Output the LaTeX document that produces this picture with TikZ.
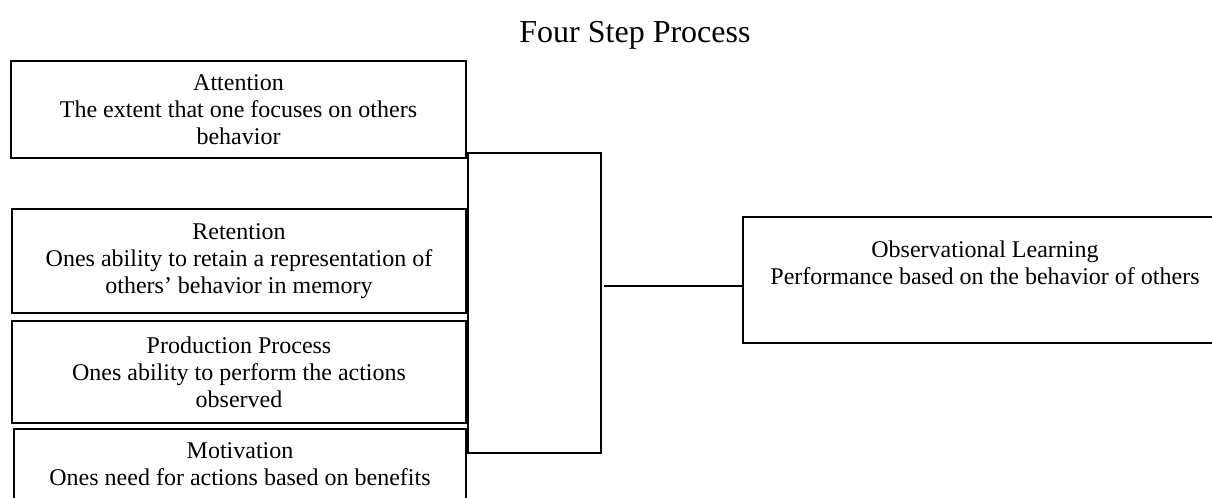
\documentclass[tikz,border=0pt]{standalone}
\usepackage{fontspec}
\setmainfont{Liberation Serif}
\begin{document}
\begin{tikzpicture}[x=0.5pt,y=-0.5pt,
  stepbox/.style={draw=black, line width=0.85pt, rectangle, inner sep=0pt, outer sep=0pt,
    align=center, font=\fontsize{12}{13.5}\selectfont},
  linkline/.style={draw=black, line width=0.85pt}]
\useasboundingbox (0,0) rectangle (1212,498);
\clip (0,0) rectangle (1212,498);
\node[anchor=base, font=\fontsize{16}{19}\selectfont] (title) at (635,42) {Four Step Process};
\node[stepbox, minimum width=227.5pt, minimum height=48.5pt] (att) at (238.5,109.5)
  {Attention\\The extent that one focuses on others\\behavior};
\node[stepbox, minimum width=227pt, minimum height=52pt] (ret) at (239,261)
  {Retention\\Ones ability to retain a representation of\\others’ behavior in memory};
\node[stepbox, minimum width=227pt, minimum height=51pt] (prod) at (239,372)
  {Production Process\\Ones ability to perform the actions\\observed};
\node[stepbox, minimum width=226pt, minimum height=53pt] (mot) at (240,482)
  {Motivation\\Ones need for actions based on benefits\\\strut};
\node[stepbox, minimum width=66.5pt, minimum height=150pt] (bracket) at (534.5,303) {};
\node[stepbox, minimum width=242pt, minimum height=63pt] (obs) at (985,280)
  {Observational Learning\\Performance based on the behavior of others\\\strut};
\draw[linkline] ([xshift=1.5pt,yshift=-3pt]bracket.east |- obs.west) -- ([yshift=-3pt]obs.west);
\end{tikzpicture}
\end{document}
